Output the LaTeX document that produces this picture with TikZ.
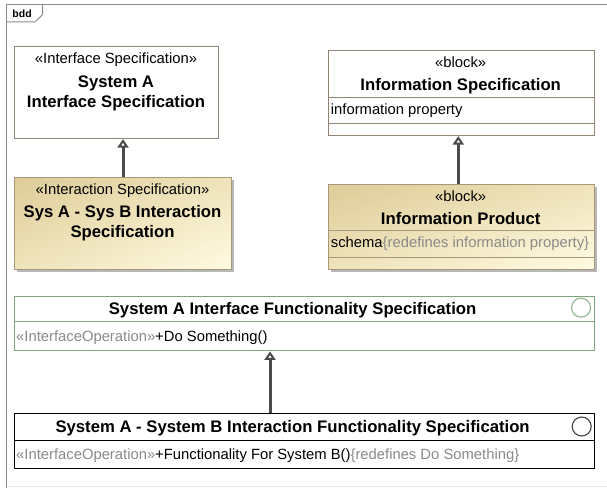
\documentclass[tikz,border=0pt]{standalone}
\usepackage{fontspec}
\setmainfont{Liberation Sans}
\usetikzlibrary{arrows.meta,shadows,shadings}

\definecolor{frameg}{HTML}{8C8C8C}
\definecolor{blkedge}{HTML}{8F8373}
\definecolor{goldedge}{HTML}{A8987A}
\definecolor{ifedge}{HTML}{7BA57D}
\definecolor{ifcirc}{HTML}{8DB590}
\definecolor{opgray}{HTML}{8A8A8A}
\definecolor{genline}{HTML}{4A4A4A}
\definecolor{goldA}{HTML}{DECC99}
\definecolor{goldC}{HTML}{EFE3BA}
\definecolor{goldB}{HTML}{FFFBE2}

\newcommand\stf{\fontsize{14.8}{17.8}\selectfont}
\newcommand\ttlf{\fontsize{16.7}{20}\selectfont\bfseries}

\begin{document}
\begin{tikzpicture}[x=1pt,y=-1pt,
  plainbox/.style={draw=blkedge, line width=1.1pt, fill=white, inner sep=0pt, anchor=north west},
  goldbox/.style={draw=goldedge, line width=1.1pt, inner sep=0pt, anchor=north west,
     upper left=goldA, upper right=goldC, lower left=goldC, lower right=goldB,
     drop shadow={shadow xshift=2.5pt, shadow yshift=-2.5pt, fill=black, opacity=0.28}},
  ifbox/.style={draw=ifedge, line width=1.1pt, fill=white, inner sep=0pt, anchor=north west},
  ixbox/.style={draw=black, line width=1.1pt, fill=white, inner sep=0pt, anchor=north west},
  txt/.style={inner sep=0pt, anchor=base},
  txtl/.style={inner sep=0pt, anchor=base west},
  genarrow/.style={draw=genline, line width=3pt,
     -{Triangle[width=11pt, length=8.5pt, line width=2pt, fill=white]}},
  icon/.style={circle, line width=1.1pt, fill=white, minimum size=19pt, inner sep=0pt}
]
\useasboundingbox (0,0) rectangle (607,487);

% diagram frame with its bdd tab
\draw[black!8, line width=0.8pt] (6.3,486.6) -- (607,486.6);
\draw[frameg, line width=1.5pt] (6.3,495) -- (6.3,4.5) -- (615,4.5);
\draw[frameg, line width=1pt] (6.3,22) -- (35,22) -- (42.7,14.5) -- (42.7,4.5);
\node[txtl] (tab) at (12.3,17.1) {\fontsize{10.5}{12}\selectfont\bfseries bdd};

% System A Interface Specification
\node[plainbox, minimum width=203.4pt, minimum height=92pt] (ifspec) at (14.3,46) {};
\node[txt] (ifspecst) at (116,63.3) {\stf «Interface Specification»};
\node[txt] (ifspect1) at (116,87) {\ttlf System A};
\node[txt] (ifspect2) at (116,107) {\ttlf Interface Specification};

% Sys A - Sys B Interaction Specification
\node[goldbox, minimum width=216.4pt, minimum height=91.7pt] (ixspec) at (14.3,177.3) {};
\node[txt] (ixspecst) at (122.5,194.3) {\stf «Interaction Specification»};
\node[txt] (ixspect1) at (122.5,217.7) {\ttlf Sys A - Sys B Interaction};
\node[txt] (ixspect2) at (122.5,237.7) {\ttlf Specification};

% Information Specification block
\node[plainbox, minimum width=266pt, minimum height=85pt] (infospec) at (327.7,50) {};
\draw[blkedge, line width=1.1pt] (infospec.west |- 0,97.3) -- (infospec.east |- 0,97.3);
\draw[blkedge, line width=1.1pt] (infospec.west |- 0,123.3) -- (infospec.east |- 0,123.3);
\node[txt] (infospecst) at (460.7,67.3) {\stf «block»};
\node[txt] (infospect) at (460.7,90) {\ttlf Information Specification};
\node[txtl] (infoprop) at (330.7,114.3) {\stf information property};

% Information Product block
\node[goldbox, minimum width=266pt, minimum height=85pt] (infoprod) at (327.7,184) {};
\draw[goldedge, line width=1.1pt] (infoprod.west |- 0,230.7) -- (infoprod.east |- 0,230.7);
\draw[goldedge, line width=1.1pt] (infoprod.west |- 0,257.3) -- (infoprod.east |- 0,257.3);
\node[txt] (infoprodst) at (460.7,201) {\stf «block»};
\node[txt] (infoprodt) at (460.7,224.3) {\ttlf Information Product};
\node[txtl] (schema) at (330.7,247) {\stf schema\textcolor{opgray}{\{redefines information property\}}};

% System A Interface Functionality Specification
\node[ifbox, minimum width=579.7pt, minimum height=54.6pt] (iffunc) at (14.3,295.7) {};
\draw[ifedge, line width=1.1pt] (iffunc.west |- 0,321.7) -- (iffunc.east |- 0,321.7);
\node[icon, draw=ifcirc] (iffuncicon) at (581,307.7) {};
\node[txt] (iffunct) at (292.6,314.3) {\ttlf System A Interface Functionality Specification};
\node[txtl] (iffuncop) at (16,341) {\stf\textcolor{opgray}{«InterfaceOperation»}+Do Something()};

% System A - System B Interaction Functionality Specification
\node[ixbox, minimum width=579.7pt, minimum height=55pt] (ixfunc) at (14.3,413.3) {};
\draw[black, line width=1.1pt] (ixfunc.west |- 0,440.7) -- (ixfunc.east |- 0,440.7);
\node[icon, draw=black!75] (ixfuncicon) at (581.7,426.5) {};
\node[txt] (ixfunct) at (292.6,432.7) {\ttlf System A - System B Interaction Functionality Specification};
\node[txtl] (ixfuncop) at (16,459.6) {\stf\textcolor{opgray}{«InterfaceOperation»}+Functionality For System B()\textcolor{opgray}{\{redefines Do Something\}}};

% generalizations
\draw[genarrow] (ixspec.north -| 123,0) -- (ifspec.south -| 123,0);
\draw[genarrow] (infoprod.north -| 458.3,0) -- (infospec.south -| 458.3,0);
\draw[genarrow] (ixfunc.north -| 270,0) -- (iffunc.south -| 270,0);
\end{tikzpicture}
\end{document}
